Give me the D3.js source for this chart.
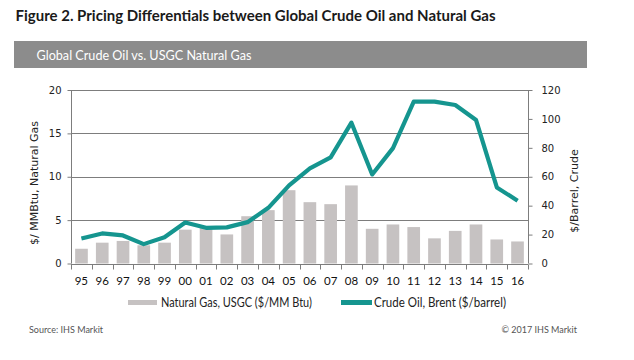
<!DOCTYPE html>
<html><head><meta charset="utf-8">
<script src="https://cdn.jsdelivr.net/npm/d3@7/dist/d3.min.js"></script>
<style>body{margin:0;background:#fff}svg{display:block}</style>
</head><body>
<script>
const years = ["95","96","97","98","99","00","01","02","03","04","05","06","07","08","09","10","11","12","13","14","15","16"];
const gasValues = [1.7,2.4,2.6,2.1,2.4,3.9,4.2,3.35,5.45,6.15,8.45,7.07,6.84,9.0,4.0,4.5,4.2,2.9,3.76,4.5,2.77,2.54];
const crudeValues = [17.3,20.8,19.4,13.4,18.2,28.4,24.7,25.0,28.6,38.5,54.0,65.8,73.4,97.4,61.6,79.8,111.9,112.0,109.6,99.2,52.6,43.4];
const leftTicks = [0,5,10,15,20];
const rightTicks = [0,20,40,60,80,100,120];
const title = "Figure 2. Pricing Differentials between Global Crude Oil and Natural Gas";
const subtitle = "Global Crude Oil vs. USGC Natural Gas";
const legendLabels = ["Natural Gas, USGC ($/MM Btu)", "Crude Oil, Brent ($/barrel)"];

const W=634,H=360;
const svg=d3.select("body").append("svg").attr("width",W).attr("height",H);
const m={l:71,r:528,t:90,b:263.5};
const x=d3.scaleBand().domain(years).range([m.l,m.r]).paddingInner(0.39).paddingOuter(0.2);
const xb=d3.scaleBand().domain(years).range([m.l,m.r]);
const yL=d3.scaleLinear().domain([0,20]).range([m.b,m.t]);
const yR=d3.scaleLinear().domain([0,120]).range([m.b,m.t]);
const tealC="#15958f", gasC="#c6c2c2", gridC="#7d7d7d";

svg.append("text").attr("x",15.5).attr("y",21).attr("font-family","Lato, 'Open Sans', sans-serif")
  .attr("font-weight","bold").attr("font-size",15.5).attr("fill","#1a1a1a")
  .attr("textLength",480).attr("lengthAdjust","spacingAndGlyphs").text(title);
svg.append("rect").attr("x",14).attr("y",41).attr("width",573).attr("height",27).attr("fill","#8c8c8c");
svg.append("text").attr("x",36.5).attr("y",60).attr("font-family","Lato, 'Open Sans', sans-serif")
  .attr("font-size",14).attr("fill","#fff").attr("textLength",215).attr("lengthAdjust","spacingAndGlyphs").text(subtitle);

// gridlines
svg.append("g").selectAll("line").data(leftTicks.filter(d=>d>0)).join("line")
  .attr("x1",m.l).attr("x2",m.r).attr("y1",d=>Math.round(yL(d))+0.5).attr("y2",d=>Math.round(yL(d))+0.5)
  .attr("stroke",gridC).attr("stroke-width",1);

// bars
svg.append("g").selectAll("rect").data(years).join("rect")
  .attr("x",(d)=>x(d)).attr("width",x.bandwidth())
  .attr("y",(d,i)=>yL(gasValues[i])).attr("height",(d,i)=>m.b-yL(gasValues[i]))
  .attr("fill",gasC);

// line
const line=d3.line().x((d,i)=>xb(years[i])+xb.bandwidth()/2).y(d=>yR(d));
svg.append("path").datum(crudeValues).attr("d",line).attr("fill","none")
  .attr("stroke",tealC).attr("stroke-width",4.2).attr("stroke-linejoin","round");

// axes
const axisFont="'DejaVu Sans', sans-serif";
const gL=svg.append("g").attr("transform",`translate(${m.l+0.5},0)`)
  .call(d3.axisLeft(yL).tickValues(leftTicks).tickSize(4).tickPadding(6));
const gR=svg.append("g").attr("transform",`translate(${m.r+0.5},0)`)
  .call(d3.axisRight(yR).tickValues(rightTicks).tickSize(4).tickPadding(9));
[gL,gR].forEach(g=>{g.select(".domain").attr("stroke",gridC).attr("d",`M0,${m.t}V${m.b}`);
  g.selectAll(".tick line").attr("stroke",gridC);
  g.selectAll("text").attr("font-family",axisFont).attr("font-size",10).attr("fill","#222");});
const gX=svg.append("g").attr("transform",`translate(0,${Math.round(m.b)+0.5})`);
gX.append("line").attr("x1",m.l).attr("x2",m.r).attr("stroke",gridC);
gX.selectAll("line.t").data(years.concat(["end"])).join("line").attr("class","t")
  .attr("x1",d=>d==="end"?m.r+0.5:Math.round(xb(d))+0.5).attr("x2",d=>d==="end"?m.r+0.5:Math.round(xb(d))+0.5)
  .attr("y1",0).attr("y2",5).attr("stroke",gridC);
gX.selectAll("text").data(years).join("text")
  .attr("x",d=>xb(d)+xb.bandwidth()/2).attr("y",20).attr("text-anchor","middle")
  .attr("font-family","Lato, sans-serif").attr("font-size",11.5).attr("fill","#111").text(d=>d);

svg.append("text").attr("transform","translate(38,183) rotate(-90)").attr("text-anchor","middle")
  .attr("font-family",axisFont).attr("font-size",11).attr("fill","#222").text("$/ MMBtu, Natural Gas");
svg.append("text").attr("transform","translate(578,191) rotate(-90)").attr("text-anchor","middle")
  .attr("font-family",axisFont).attr("font-size",11).attr("fill","#222").text("$/Barrel, Crude");

// legend
const lg=svg.append("g");
lg.append("rect").attr("x",128).attr("y",300).attr("width",29).attr("height",5).attr("fill",gasC);
lg.append("text").attr("x",161).attr("y",307).attr("font-family","Lato, sans-serif").attr("font-size",13).attr("fill","#222")
  .attr("textLength",151).attr("lengthAdjust","spacingAndGlyphs").text(legendLabels[0]);
lg.append("line").attr("x1",341).attr("x2",372).attr("y1",302.5).attr("y2",302.5).attr("stroke",tealC).attr("stroke-width",5);
lg.append("text").attr("x",374).attr("y",307).attr("font-family","Lato, sans-serif").attr("font-size",13).attr("fill","#222")
  .attr("textLength",132).attr("lengthAdjust","spacingAndGlyphs").text(legendLabels[1]);

svg.append("text").attr("x",29).attr("y",333).attr("font-family","Lato, sans-serif").attr("font-size",9).attr("fill","#555").text("Source: IHS Markit");
svg.append("text").attr("x",577).attr("y",333).attr("text-anchor","end").attr("font-family","Lato, sans-serif").attr("font-size",9).attr("fill","#555").text("© 2017 IHS Markit");
</script>
</body></html>
